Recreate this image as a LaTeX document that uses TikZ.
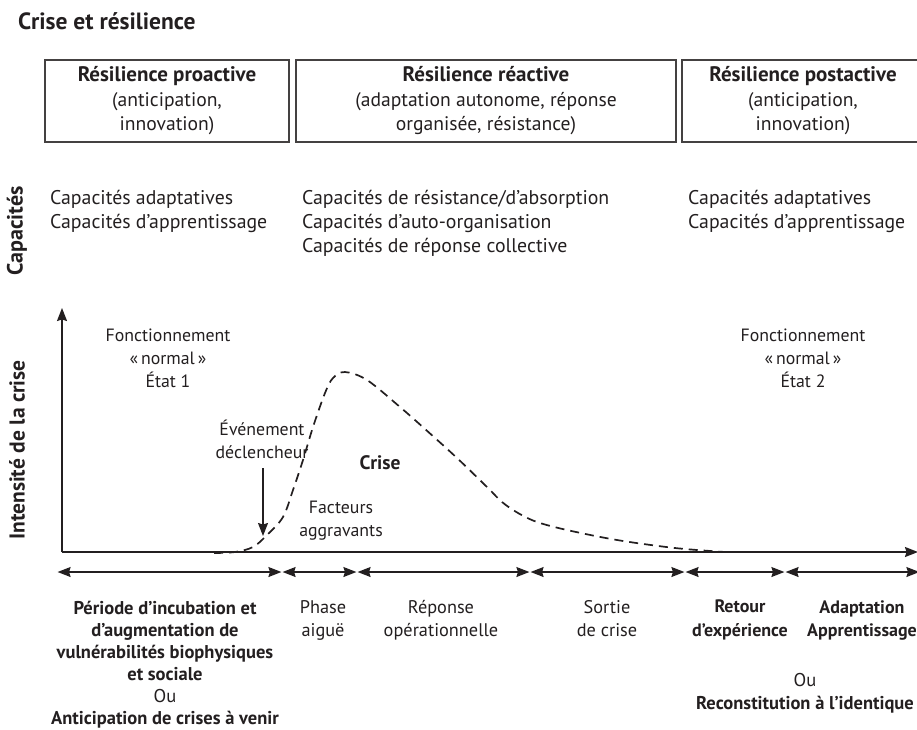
\documentclass[tikz,border=0pt]{standalone}
\usepackage{fontspec}
\setmainfont{PT Sans}
\usetikzlibrary{arrows.meta}
\definecolor{ink}{HTML}{231F20}
\begin{document}
\begin{tikzpicture}[x=1pt,y=-1pt,
  every node/.style={text=ink, inner sep=0pt},
  boxt/.style={font=\fontsize{19.6}{24.5}\selectfont, align=center},
  capt/.style={font=\fontsize{19.8}{24}\selectfont, align=left, anchor=west},
  plt/.style={font=\fontsize{17.8}{23}\selectfont, align=center},
  bot/.style={font=\fontsize{18.3}{23.5}\selectfont, align=center, anchor=north},
  botb/.style={font=\bfseries\fontsize{18.5}{22}\selectfont, align=center, anchor=north},
  framebox/.style={draw=ink!85, line width=1.3pt, minimum height=82pt},
  axis/.style={draw=ink, line width=1.5pt},
  span/.style={draw=ink, line width=1.3pt, {Stealth[length=13pt,width=10pt,inset=1.5pt]}-{Stealth[length=13pt,width=10pt,inset=1.5pt]}, shorten <=0.6pt, shorten >=0.6pt},
  crv/.style={draw=ink, line width=1.7pt, dash pattern=on 9pt off 6pt}
]
\useasboundingbox (0,0) rectangle (917,729);

% title
\node[font=\bfseries\fontsize{23.5}{26}\selectfont, anchor=west] (title) at (18,21) {Crise et résilience};

% boxes
\node[framebox, minimum width=244pt] (b1) at (167,101) {};
\node[framebox, minimum width=380pt] (b2) at (486,101) {};
\node[framebox, minimum width=242pt] (b3) at (803,101) {};
\node[boxt] (b1t) at (167,101) {{\bfseries\fontsize{21}{24.5}\selectfont Résilience proactive}\\(anticipation,\\innovation)};
\node[boxt] (b2t) at (486,101) {{\bfseries\fontsize{21}{24.5}\selectfont Résilience réactive}\\(adaptation autonome, réponse\\organisée, résistance)};
\node[boxt] (b3t) at (803,101) {{\bfseries\fontsize{21}{24.5}\selectfont Résilience postactive}\\(anticipation,\\innovation)};

% capacities
\node[font=\bfseries\fontsize{22}{24}\selectfont, rotate=90] (cap) at (17,231) {Capacités};
\node[capt] (c1) at (50,211) {Capacités adaptatives\\Capacités d’apprentissage};
\node[capt] (c2) at (302,223) {Capacités de résistance/d’absorption\\Capacités d’auto-organisation\\Capacités de réponse collective};
\node[capt] (c3) at (688,211) {Capacités adaptatives\\Capacités d’apprentissage};

% axes
\coordinate (O) at (62,552);
\coordinate (Ytop) at (62,308);
\coordinate (Xend) at (918,552);
\draw[axis, -{Stealth[length=13pt,width=10pt,inset=1.5pt]}] (O) -- (Ytop);
\draw[axis, -{Stealth[length=13pt,width=10pt,inset=1.5pt]}] (O) -- (Xend);
\node[font=\bfseries\fontsize{21.5}{24}\selectfont, rotate=90] (ylab) at (17,450) {Intensité de la crise};

% curve
\draw[crv] plot[smooth, tension=0.55] coordinates {(214,553) (235,552) (253,547) (267,535) (283,517) (293,490) (303,460) (313,427) (325,393) (333,378) (345,372) (367,380) (400,407) (425,429) (457,458) (488,488) (502,502) (518,513) (537,522) (567,530) (617,540) (675,548) (725,552)};

% labels in plot
\node[plt] (e1) at (168,358) {Fonctionnement\\«\,normal\,»\\État 1};
\node[plt] (e2) at (803,358) {Fonctionnement\\«\,normal\,»\\État 2};
\node[plt] (ev) at (262,439) {Événement\\déclencheur};
\node[font=\bfseries\fontsize{19.5}{22}\selectfont] (crise) at (380,463) {Crise};
\node[plt] (fa) at (341,521) {Facteurs\\aggravants};
\coordinate (evstart) at (263,468);
\coordinate (evend) at (263,536);
\draw[draw=ink, line width=1.3pt, -{Stealth[length=13pt,width=10pt,inset=1.5pt]}] (evstart) -- (evend);

% timeline
\coordinate (t0) at (57,572);
\coordinate (t1) at (282,572);
\coordinate (t2) at (357,572);
\coordinate (t3) at (530,572);
\coordinate (t4) at (685,572);
\coordinate (t5) at (785,572);
\coordinate (t6) at (920,572);
\draw[span] (t0) -- (t1);
\draw[span] (t1) -- (t2);
\draw[span] (t2) -- (t3);
\draw[span] (t3) -- (t4);
\draw[span] (t4) -- (t5);
\draw[span] (t5) -- (t6);

% phase labels
\node[botb] (p1) at (165,601) {Période d’incubation et\\d’augmentation de\\vulnérabilités biophysiques\\et sociale\\\mdseries Ou\\Anticipation de crises à venir};
\node[bot] (p2) at (323,600) {Phase\\aiguë};
\node[bot] (p3) at (441,600) {Réponse\\opérationnelle};
\node[bot] (p4) at (607,600) {Sortie\\de crise};
\node[botb, font=\bfseries\fontsize{18}{23.5}\selectfont] (p5) at (740,600) {Retour\\d’expérience};
\node[botb, font=\bfseries\fontsize{18}{23.5}\selectfont] (p6) at (862,600) {Adaptation\\Apprentissage};
\node[font=\fontsize{18.5}{23}\selectfont, align=center, anchor=north] (p7) at (805,673) {Ou\\\bfseries Reconstitution à l’identique};
\end{tikzpicture}
\end{document}
